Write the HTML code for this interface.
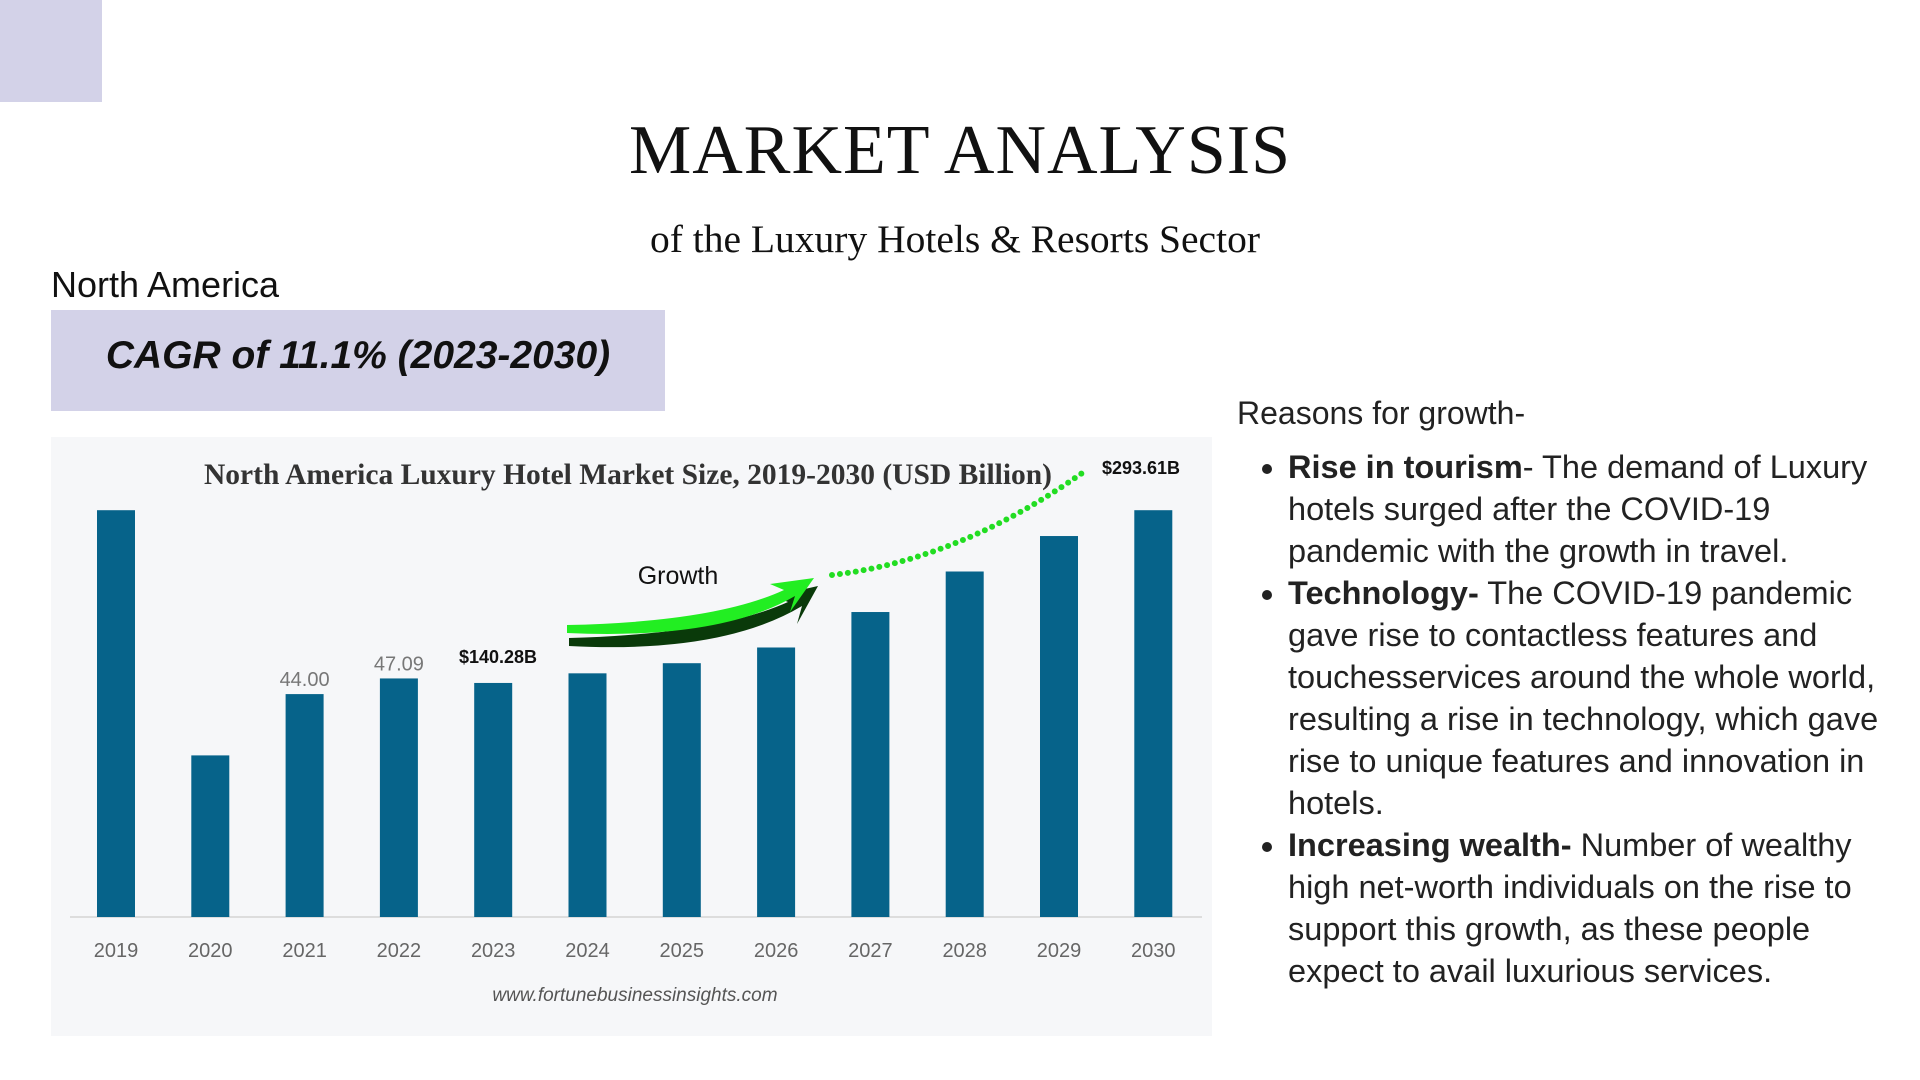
<!DOCTYPE html>
<html><head><meta charset="utf-8">
<style>
html,body{margin:0;padding:0;background:#fff;}
body{width:1920px;height:1080px;position:relative;overflow:hidden;font-family:"Liberation Sans",sans-serif;}
.abs{position:absolute;}
#title{left:0;width:1920px;top:111px;text-align:center;font-family:"Liberation Serif",serif;font-size:70px;color:#111;letter-spacing:1px;}
#sub{left:0;width:1910px;top:216px;text-align:center;font-family:"Liberation Serif",serif;font-size:39.5px;color:#111;}
#na{left:51px;top:264px;font-size:36px;color:#111;}
#cagr{left:51px;top:310px;width:614px;height:101px;background:#d3d2e8;font-weight:bold;font-style:italic;font-size:39px;line-height:92px;text-align:center;color:#111;}
#reasons{left:1237px;top:395px;font-size:32px;color:#222;}
ul{position:absolute;left:1237px;top:446px;width:600px;margin:0;padding-left:51px;font-size:32.5px;line-height:42px;color:#222;}
li{margin:0;}
</style></head><body>
<div class="abs" style="left:0;top:0;width:102px;height:102px;background:#d3d2e8"></div>
<div class="abs" id="title">MARKET ANALYSIS</div>
<div class="abs" id="sub">of the Luxury Hotels &amp; Resorts Sector</div>
<div class="abs" id="na">North America</div>
<div class="abs" id="cagr">CAGR of 11.1% (2023-2030)</div>
<div class="abs" id="reasons">Reasons for growth-</div>
<ul>
<li><b>Rise in tourism</b>- The demand of Luxury hotels surged after the COVID-19 pandemic with the growth in travel.</li>
<li><b>Technology-</b> The COVID-19 pandemic gave rise to contactless features and touchesservices around the whole world, resulting a rise in technology, which gave rise to unique features and innovation in hotels.</li>
<li><b>Increasing wealth-</b> Number of wealthy high net-worth individuals on the rise to support this growth, as these people expect to avail luxurious services.</li>
</ul>
<svg class="abs" style="left:0;top:0" width="1920" height="1080">
<rect x="51" y="437" width="1161" height="599" fill="#f6f7f9"/>
<text x="628" y="484" text-anchor="middle" font-family="Liberation Serif,serif" font-weight="bold" font-size="29.5" fill="#333">North America Luxury Hotel Market Size, 2019-2030 (USD Billion)</text>
<line x1="70" y1="917" x2="1202" y2="917" stroke="#ddd" stroke-width="2"/>
<g id="bars"></g>
<text x="498" y="663" text-anchor="middle" font-weight="bold" font-size="18" fill="#111">$140.28B</text>
<text x="1141" y="474" text-anchor="middle" font-weight="bold" font-size="18" fill="#111">$293.61B</text>
<text x="678" y="584" text-anchor="middle" font-size="25" fill="#111">Growth</text>
<path d="M567 640 Q720 648 800 600 L795 618 L816 580 L772 590 L786 596 Q715 628 567 632 Z" fill="#0a3a0a" transform="translate(2,6)"/>
<path d="M567 633 Q720 640 795 596 L790 612 L814 578 L770 584 L784 590 Q715 622 567 625 Z" fill="#22ee22"/>
<path d="M832 575 Q960 560 1085 471" fill="none" stroke="#22dd22" stroke-width="6" stroke-linecap="round" stroke-dasharray="0 8"/>
<text x="635" y="1001" text-anchor="middle" font-style="italic" font-size="19" fill="#555">www.fortunebusinessinsights.com</text>
</svg>
<script>
const years = ["2019","2020","2021","2022","2023","2024","2025","2026","2027","2028","2029","2030"];
const values = [80.3, 31.9, 44.0, 47.09, 46.2, 48.1, 50.1, 53.2, 60.2, 68.2, 75.2, 80.3];
const valueLabels = ["", "", "44.00", "47.09", "", "", "", "", "", "", "", ""];
const g = document.getElementById('bars');
const NS = "http://www.w3.org/2000/svg";
const base = 917, pxPerUnit = 5.066, x0 = 116, step = 94.3, bw = 38;
function xPos(i){ return x0 + i*step; }
function yPos(v){ return base - v*pxPerUnit; }
years.forEach((yr,i)=>{
  const r = document.createElementNS(NS,'rect');
  r.setAttribute('x', xPos(i)-bw/2);
  r.setAttribute('y', yPos(values[i]));
  r.setAttribute('width', bw);
  r.setAttribute('height', base - yPos(values[i]));
  r.setAttribute('fill', '#06638a');
  
  
  g.appendChild(r);
  const t = document.createElementNS(NS,'text');
  t.setAttribute('x', xPos(i));
  t.setAttribute('y', 957);
  t.setAttribute('text-anchor','middle');
  t.setAttribute('font-size','20');
  t.setAttribute('fill','#666');
  t.textContent = yr;
  
  
  g.appendChild(t);
  if (valueLabels[i]) {
    const v = document.createElementNS(NS,'text');
    v.setAttribute('x', xPos(i));
    v.setAttribute('y', yPos(values[i]) - 8);
    v.setAttribute('text-anchor','middle');
    v.setAttribute('font-size','20');
    v.setAttribute('fill','#777');
    v.textContent = valueLabels[i];
    
    
    g.appendChild(v);
  }
});
</script>
</body></html>
